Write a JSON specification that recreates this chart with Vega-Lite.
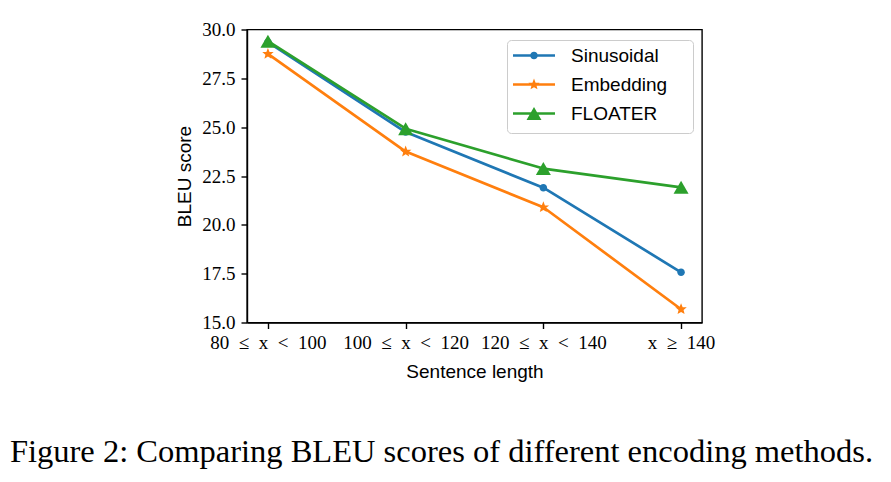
{
  "$schema": "https://vega.github.io/schema/vega-lite/v6.json",
  "description": "BLEU score by sentence length for three position encodings.",
  "width": 455,
  "height": 293,
  "autosize": "none",
  "padding": {"left": 247, "top": 29.5, "right": 189, "bottom": 159.5},
  "background": "white",
  "title": {
    "text": "Figure 2: Comparing BLEU scores of different encoding methods.",
    "orient": "bottom",
    "anchor": "middle",
    "baseline": "top",
    "font": "Liberation Serif",
    "fontSize": 32.5,
    "fontWeight": "normal",
    "color": "black",
    "offset": 54,
    "dx": -33
  },
  "data": {
    "values": [
      {"length": "80\u2002≤\u2002x\u2002<\u2002100", "series": "Sinusoidal", "bleu": 29.35},
      {"length": "100\u2002≤\u2002x\u2002<\u2002120", "series": "Sinusoidal", "bleu": 24.75},
      {"length": "120\u2002≤\u2002x\u2002<\u2002140", "series": "Sinusoidal", "bleu": 21.9},
      {"length": "x\u2002≥\u2002140", "series": "Sinusoidal", "bleu": 17.57},
      {"length": "80\u2002≤\u2002x\u2002<\u2002100", "series": "Embedding", "bleu": 28.75},
      {"length": "100\u2002≤\u2002x\u2002<\u2002120", "series": "Embedding", "bleu": 23.75},
      {"length": "120\u2002≤\u2002x\u2002<\u2002140", "series": "Embedding", "bleu": 20.9},
      {"length": "x\u2002≥\u2002140", "series": "Embedding", "bleu": 15.68},
      {"length": "80\u2002≤\u2002x\u2002<\u2002100", "series": "FLOATER", "bleu": 29.4},
      {"length": "100\u2002≤\u2002x\u2002<\u2002120", "series": "FLOATER", "bleu": 24.92},
      {"length": "120\u2002≤\u2002x\u2002<\u2002140", "series": "FLOATER", "bleu": 22.88},
      {"length": "x\u2002≥\u2002140", "series": "FLOATER", "bleu": 21.92}
    ]
  },
  "encoding": {
    "x": {
      "field": "length",
      "type": "nominal",
      "scale": {"type": "point", "padding": 0.152, "domain": ["80\u2002≤\u2002x\u2002<\u2002100", "100\u2002≤\u2002x\u2002<\u2002120", "120\u2002≤\u2002x\u2002<\u2002140", "x\u2002≥\u2002140"]},
      "axis": {"title": "Sentence length", "labelAngle": 0, "labelPadding": 5, "titlePadding": 10}
    },
    "y": {
      "field": "bleu",
      "type": "quantitative",
      "scale": {"domain": [15, 30], "nice": false, "zero": false},
      "axis": {"title": "BLEU score", "values": [15, 17.5, 20, 22.5, 25, 27.5, 30], "format": ".1f", "labelPadding": 6, "titlePadding": 7}
    },
    "color": {
      "field": "series",
      "type": "nominal",
      "scale": {"domain": ["Sinusoidal", "Embedding", "FLOATER"], "range": ["#1f77b4", "#ff7f0e", "#2ca02c"]}
    }
  },
  "layer": [
    {
      "mark": {"type": "line", "strokeWidth": 2.7, "strokeJoin": "round"}
    },
    {
      "transform": [{"filter": "datum.series === 'Sinusoidal'"}],
      "mark": {"type": "point", "filled": true, "opacity": 1, "size": 225, "strokeWidth": 0,
        "shape": "M0.5,0A0.5,0.5,0,1,1,-0.5,0A0.5,0.5,0,1,1,0.5,0Z"},
      "encoding": {
        "color": {
          "field": "series",
          "type": "nominal",
          "scale": {"domain": ["Sinusoidal", "Embedding", "FLOATER"], "range": ["#1f77b4", "#ff7f0e", "#2ca02c"]},
          "legend": {
            "title": null,
            "orient": "none",
            "legendX": 260,
            "legendY": 10.5,
            "fillColor": "white",
            "strokeColor": "#cccccc",
            "cornerRadius": 4,
            "padding": 3,
            "labelFont": "Liberation Sans",
            "labelFontSize": 19,
            "labelColor": "black",
            "labelOffset": 16,
            "rowPadding": 0,
            "symbolSize": 1764,
            "symbolStrokeWidth": 0,
            "symbolOpacity": 1,
            "encoding": {
              "symbols": {
                "x": {"value": 24},
                "y": {"value": 12.5},
                "fill": {"value": {"expr": "scale('color', datum.value)"}},
                "shape": {"value": {"expr": "'M0,-0.595ZM7.41,0.762Z' + (datum.value === 'Sinusoidal' ? 'M-1,-0.064H1V0.064H-1ZM0.18,0A0.18,0.18,0,1,1,-0.18,0A0.18,0.18,0,1,1,0.18,0Z' : datum.value === 'Embedding' ? 'M-1,-0.064H1V0.064H-1ZM0,-0.28L0.075,-0.087L0.266,-0.087L0.117,0.038L0.165,0.227L0,0.126L-0.165,0.227L-0.117,0.038L-0.266,-0.087L-0.075,-0.087Z' : 'M-1,-0.064H1V0.064H-1ZM0,-0.31L0.357,0.31L-0.357,0.31Z')"}}
              },
              "labels": {
                "x": {"value": 61},
                "y": {"value": 12.5}
              }
            }
          }
        }
      }
    },
    {
      "transform": [{"filter": "datum.series === 'Embedding'"}],
      "mark": {"type": "point", "filled": true, "opacity": 1, "size": 225, "strokeWidth": 0,
        "shape": "M0,-0.8L0.212,-0.248L0.761,-0.248L0.333,0.108L0.47,0.647L0,0.36L-0.47,0.647L-0.333,0.108L-0.761,-0.248L-0.212,-0.248Z"}
    },
    {
      "transform": [{"filter": "datum.series === 'FLOATER'"}],
      "mark": {"type": "point", "filled": true, "opacity": 1, "size": 225, "strokeWidth": 0,
        "shape": "M0,-0.866L1,0.866L-1,0.866Z"}
    }
  ],
  "config": {
    "view": {"stroke": "black", "strokeWidth": 1.4},
    "axis": {
      "grid": false,
      "domainColor": "black",
      "domainWidth": 1.4,
      "tickColor": "black",
      "tickWidth": 1.4,
      "tickSize": 6,
      "labelColor": "black",
      "labelFont": "Liberation Serif",
      "labelFontSize": 19,
      "titleColor": "black",
      "titleFont": "Liberation Sans",
      "titleFontSize": 19,
      "titleFontWeight": "normal"
    }
  }
}
